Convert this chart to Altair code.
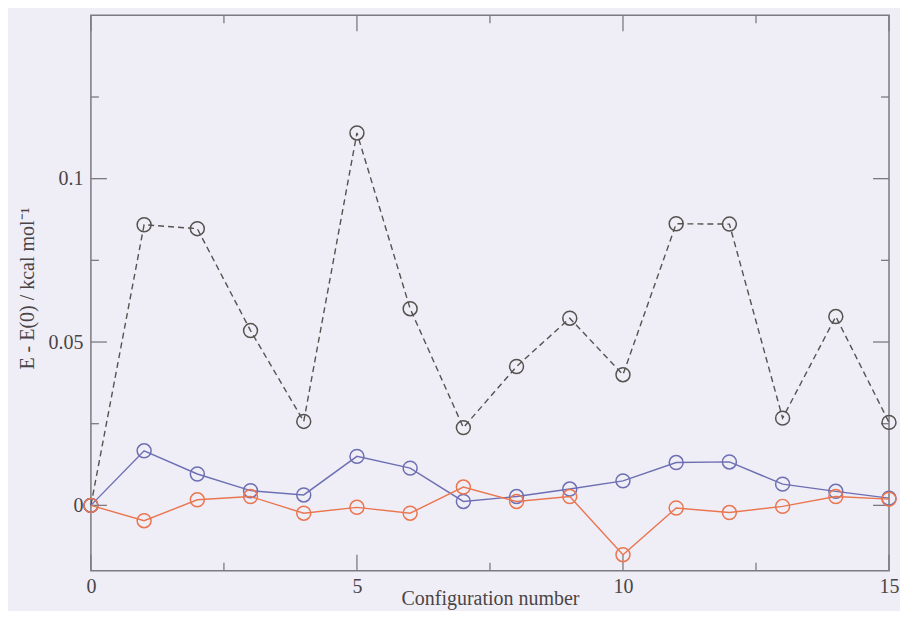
import altair as alt
import pandas as pd

# ---- data ----
config_num = list(range(16))
dashed_black = [0.0, 0.0859, 0.0847, 0.0535, 0.0257, 0.1140, 0.0602, 0.0238,
                0.0425, 0.0573, 0.0400, 0.0862, 0.0861, 0.0267, 0.0578, 0.0254]
blue_series = [0.0, 0.0167, 0.0096, 0.0045, 0.0032, 0.0150, 0.0114, 0.0012,
               0.0027, 0.0050, 0.0075, 0.0131, 0.0133, 0.0065, 0.0043, 0.0022]
orange_series = [0.0, -0.0047, 0.0017, 0.0027, -0.0024, -0.0006, -0.0024, 0.0056,
                 0.0012, 0.0027, -0.0151, -0.0008, -0.0022, -0.0003, 0.0027, 0.0019]

x_major = [0, 5, 10, 15]
x_minor = [2.5, 7.5, 12.5]
y_major = [0, 0.05, 0.1]
y_minor = [0.025, 0.075, 0.125]

W, H = 799, 556
FONT = "Liberation Serif"
TEXT = "#4a4446"
FRAME = "#7c7a80"

xs = alt.Scale(domain=[0, 15], nice=False, zero=False)
ys = alt.Scale(domain=[-0.02, 0.15], nice=False, zero=False)

def series_layers(vals, color, dash=None):
    df = pd.DataFrame({"x": config_num, "y": vals})
    line_kw = dict(color=color, strokeWidth=1.4)
    if dash:
        line_kw["strokeDash"] = dash
    line = alt.Chart(df).mark_line(**line_kw).encode(
        x=alt.X("x:Q", scale=xs), y=alt.Y("y:Q", scale=ys))
    pts = alt.Chart(df).mark_point(shape="circle", filled=False, size=195,
                                   color=color, strokeWidth=1.5, opacity=1).encode(
        x=alt.X("x:Q", scale=xs), y=alt.Y("y:Q", scale=ys))
    return [line, pts]

# base with axes
base_df = pd.DataFrame({"x": config_num, "y": dashed_black})
base = alt.Chart(base_df).mark_point(opacity=0).encode(
    x=alt.X("x:Q", scale=xs,
            axis=alt.Axis(title="Configuration number", values=x_major, format="d",
                          ticks=False, domain=False, grid=False, labelPadding=6,
                          labelFlush=False, titleY=34, titleBaseline="alphabetic")),
    y=alt.Y("y:Q", scale=ys,
            axis=alt.Axis(title="E - E(0) / kcal mol⁻¹", values=y_major, format="~g",
                          ticks=False, domain=False, grid=False, labelPadding=8,
                          labelFlush=False, titleX=-57, titleY=273,
                          titleAngle=270, titleAlign="center",
                          titleBaseline="alphabetic")),
)

# tick marks (inward, on all four sides)
def tick_layers():
    out = []
    for vals, ln in ((x_major, 16), (x_minor, 8)):
        d = pd.DataFrame({"t": vals})
        out.append(alt.Chart(d).mark_rule(color=FRAME, strokeWidth=1.3).encode(
            x=alt.X("t:Q", scale=xs), y=alt.value(H), y2=alt.value(H - ln)))
        out.append(alt.Chart(d).mark_rule(color=FRAME, strokeWidth=1.3).encode(
            x=alt.X("t:Q", scale=xs), y=alt.value(0), y2=alt.value(ln)))
    for vals, ln in ((y_major, 16), (y_minor, 8)):
        d = pd.DataFrame({"t": vals})
        out.append(alt.Chart(d).mark_rule(color=FRAME, strokeWidth=1.3).encode(
            y=alt.Y("t:Q", scale=ys), x=alt.value(0), x2=alt.value(ln)))
        out.append(alt.Chart(d).mark_rule(color=FRAME, strokeWidth=1.3).encode(
            y=alt.Y("t:Q", scale=ys), x=alt.value(W), x2=alt.value(W - ln)))
    return out

layers = [base] + tick_layers()
layers += series_layers(dashed_black, "#56524f", dash=[6, 4])
layers += series_layers(blue_series, "#6d6fb2")
layers += series_layers(orange_series, "#ea7650")

chart = alt.layer(*layers).properties(
    width=W, height=H,
    autosize=alt.AutoSizeParams(type="none"),
    padding={"left": 83, "top": 7, "right": 11, "bottom": 40},
).configure(
    background="#efeef7",
).configure_view(
    stroke=FRAME, strokeWidth=1.5,
).configure_axis(
    labelFont=FONT, titleFont=FONT, labelFontSize=20, titleFontSize=20,
    labelColor=TEXT, titleColor=TEXT, titleFontWeight="normal",
)

chart.save("out.html", embed_options={"renderer": "svg", "actions": False})
